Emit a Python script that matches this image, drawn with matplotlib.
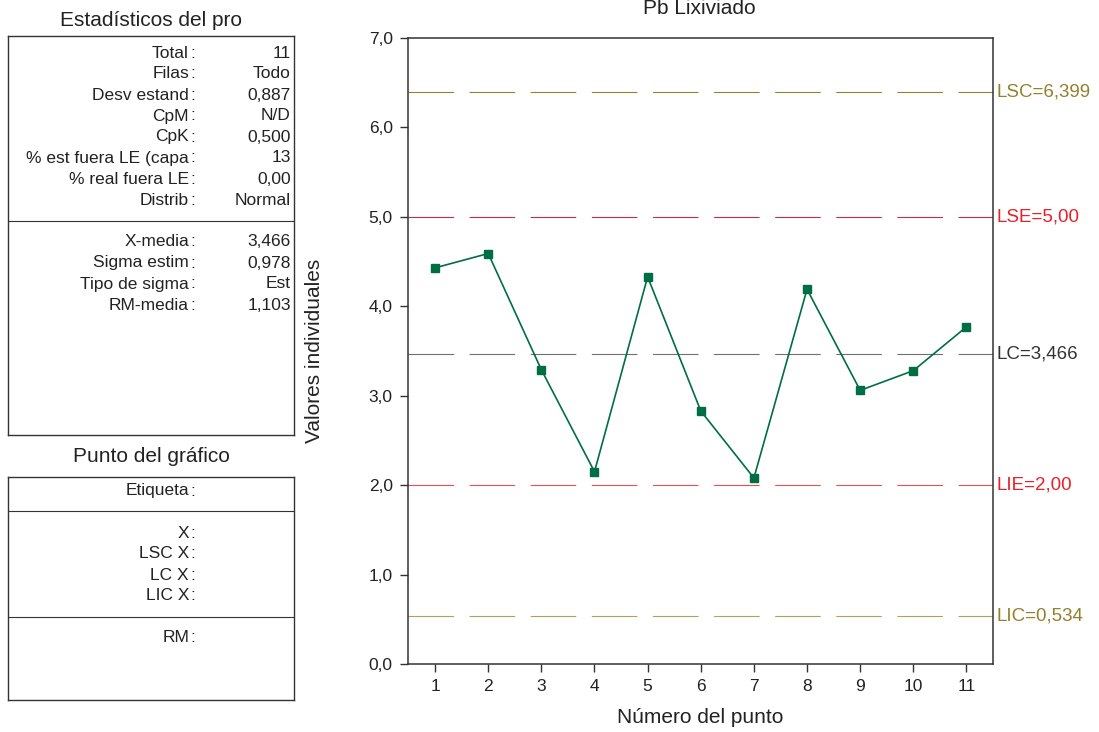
import matplotlib
matplotlib.use("Agg")
import matplotlib.pyplot as plt
from matplotlib.ticker import FuncFormatter

plt.rcParams['font.family'] = ['Liberation Sans', 'DejaVu Sans']

# datos
puntos = list(range(1, 12))
valores = [4.43, 4.59, 3.29, 2.15, 4.33, 2.83, 2.08, 4.19, 3.06, 3.28, 3.77]

lsc, lc, lic = 6.399, 3.466, 0.534
lse, lie = 5.00, 2.00

stats_labels = ['Total', 'Filas', 'Desv estand', 'CpM', 'CpK',
                '% est fuera LE (capa', '% real fuera LE', 'Distrib']
stats_values = ['11', 'Todo', '0,887', 'N/D', '0,500', '13', '0,00', 'Normal']
stats2_labels = ['X-media', 'Sigma estim', 'Tipo de sigma', 'RM-media']
stats2_values = ['3,466', '0,978', 'Est', '1,103']
punto_labels = ['X', 'LSC X', 'LC X', 'LIC X']

W, H = 1099, 732
fig = plt.figure(figsize=(W / 100, H / 100), dpi=100)


def fx(px):
    return px / W


def fy(py):
    return 1 - py / H


def box(x0, y0, x1, y1, dividers):
    ax = fig.add_axes([fx(x0), fy(y1), fx(x1 - x0), fy(y0) - fy(y1)])
    ax.set_xlim(x0, x1)
    ax.set_ylim(y1, y0)
    ax.set_xticks([])
    ax.set_yticks([])
    for s in ax.spines.values():
        s.set_color('#333333')
        s.set_linewidth(1.0)
    for d in dividers:
        ax.axhline(d, color='#333333', lw=0.8)
    return ax


fs = 12.5
txt = '#222222'


def fila(y, lab, val=None):
    fig.text(fx(189), fy(y), lab, ha='right', va='center', fontsize=fs, color=txt)
    fig.text(fx(193), fy(y), ':', ha='center', va='center', fontsize=fs, color=txt)
    if val is not None:
        fig.text(fx(291), fy(y), val, ha='right', va='center', fontsize=fs, color=txt)


# panel estadisticos
box(8, 36, 294, 435, [221])
fig.text(fx(151), fy(20), 'Estadísticos del pro', ha='center', va='center', fontsize=15, color=txt)
for i, (lab, val) in enumerate(zip(stats_labels, stats_values)):
    fila(53 + i * 21, lab, val)
for i, (lab, val) in enumerate(zip(stats2_labels, stats2_values)):
    fila(242 + i * 21, lab, val)

# panel punto del grafico
box(8, 477, 294, 700, [511, 617])
fig.text(fx(151), fy(456), 'Punto del gráfico', ha='center', va='center', fontsize=15, color=txt)
fila(491, 'Etiqueta')
for i, lab in enumerate(punto_labels):
    fila(533 + i * 21, lab)
fila(637, 'RM')

# grafico principal
ax = fig.add_axes([fx(408), fy(664), fx(993 - 408), fy(38) - fy(664)])
ax.set_xlim(0.49, 11.50)
ax.set_ylim(0, 7)

olive = '#94802c'
red = '#e8202a'
gray = '#707070'
lineas = [
    (lsc, olive, olive, 'LSC=6,399'),
    (lse, '#c0304a', red, 'LSE=5,00'),
    (lc, gray, '#333333', 'LC=3,466'),
    (lie, '#e85050', red, 'LIE=2,00'),
    (lic, '#b0a060', olive, 'LIC=0,534'),
]
for yv, lcol, tcol, lab in lineas:
    ax.axhline(yv, color=lcol, lw=0.8, dashes=(41, 14), dash_capstyle='butt')
    ax.text(1.006, yv, lab, transform=ax.get_yaxis_transform(), ha='left', va='center',
            fontsize=13.5, color=tcol, clip_on=False)

ax.plot(puntos, valores, color='#006e45', lw=1.2, marker='s', markersize=6,
        markerfacecolor='#006e45', markeredgecolor='#006e45')

ax.set_xticks(puntos)
ax.set_yticks([0, 1, 2, 3, 4, 5, 6, 7])
ax.yaxis.set_major_formatter(FuncFormatter(lambda v, p: f'{v:.1f}'.replace('.', ',')))
ax.tick_params(direction='out', length=6, width=1.0, labelsize=12.5, colors='#333333',
               labelcolor=txt, pad=5)
for s in ax.spines.values():
    s.set_color('#333333')
    s.set_linewidth(1.1)

ax.set_ylabel('Valores individuales', fontsize=15, color=txt, labelpad=32)
ax.set_xlabel('Número del punto', fontsize=15, color=txt, labelpad=10)
fig.text(fx(699), fy(8), 'Pb Lixiviado', ha='center', va='center', fontsize=15, color=txt)

fig.savefig('out.png', dpi=100)
